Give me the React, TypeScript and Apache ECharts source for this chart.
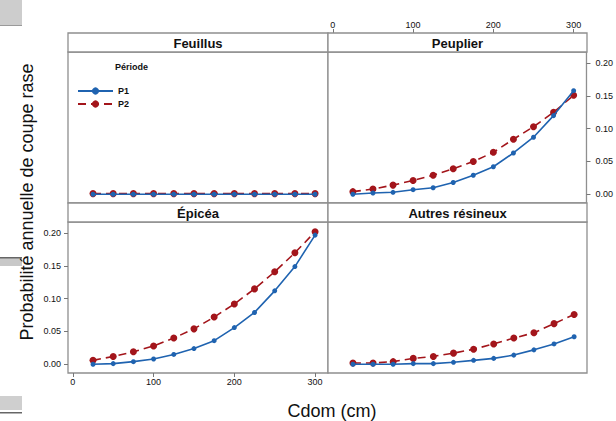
import React, { useEffect, useRef } from "react";
import * as echarts from "echarts";

const xValues = [25, 50, 75, 100, 125, 150, 175, 200, 225, 250, 275, 300];
const xTicks = [0, 100, 200, 300];
const yTicks = [0, 0.05, 0.1, 0.15, 0.2];
const legendNames = ["P1", "P2"];

const feuillusP1 = [0.0, 0.0, 0.0, 0.0, 0.0, 0.0, 0.0, 0.0, 0.0, 0.0, 0.0, 0.0];
const feuillusP2 = [0.001, 0.001, 0.001, 0.001, 0.001, 0.001, 0.001, 0.001, 0.001, 0.001, 0.001, 0.001];
const peuplierP1 = [0.0, 0.002, 0.003, 0.007, 0.01, 0.018, 0.029, 0.042, 0.063, 0.087, 0.12, 0.158];
const peuplierP2 = [0.004, 0.008, 0.014, 0.021, 0.029, 0.039, 0.05, 0.064, 0.084, 0.103, 0.125, 0.151];
const epiceaP1 = [0.0, 0.001, 0.004, 0.008, 0.015, 0.024, 0.036, 0.056, 0.079, 0.112, 0.149, 0.197];
const epiceaP2 = [0.006, 0.012, 0.019, 0.028, 0.04, 0.054, 0.072, 0.092, 0.115, 0.141, 0.17, 0.202];
const autresP1 = [0.0, 0.0, 0.0, 0.001, 0.001, 0.003, 0.006, 0.009, 0.014, 0.022, 0.031, 0.042];
const autresP2 = [0.002, 0.002, 0.004, 0.009, 0.012, 0.017, 0.023, 0.031, 0.04, 0.048, 0.062, 0.076];

const panelTitles = ["Feuillus", "Peuplier", "Épicéa", "Autres résineux"];
const panelSeries = [
  [feuillusP1, feuillusP2],
  [peuplierP1, peuplierP2],
  [epiceaP1, epiceaP2],
  [autresP1, autresP2],
];

const BLUE = "#1f63b0";
const RED = "#a3151b";
const FONT = "Liberation Sans, Arial, sans-serif";
const FRAME = "#8f8f8f";

export default function App() {
  const ref = useRef<HTMLDivElement>(null);
  useEffect(() => {
    document.body.style.margin = "0";
    const chart = echarts.init(ref.current!, null, { renderer: "svg" });
    const L = 68, R = 587, MID = 328;
    const TOP = 33, STRIP = 19;
    const P1T = TOP + STRIP;
    const H = 151;
    const S2T = P1T + H;
    const P2T = S2T + STRIP;
    const grids = [
      { left: L, top: P1T, width: MID - L, height: H },
      { left: MID, top: P1T, width: R - MID, height: H },
      { left: L, top: P2T, width: MID - L, height: H },
      { left: MID, top: P2T, width: R - MID, height: H },
    ].map((g) => ({ ...g, show: true, borderColor: FRAME, borderWidth: 1.3, backgroundColor: "#fff" }));

    const labelStyle = { fontSize: 9, color: "#111", fontFamily: FONT };
    const xAxes = grids.map((_, i) => {
      const shown = i === 1 || i === 2;
      return {
        gridIndex: i,
        type: "value",
        min: -6,
        max: 316,
        position: i === 1 ? "top" : "bottom",
        offset: i === 1 ? STRIP : 0,
        show: shown,
        axisLine: { show: false, onZero: false },
        splitLine: { show: false },
        axisTick: { show: shown, length: 4, customValues: xTicks, lineStyle: { color: "#777" } },
        axisLabel: { show: shown, margin: 4, customValues: xTicks, ...labelStyle },
      };
    });
    const yAxes = grids.map((_, i) => {
      const shown = i === 1 || i === 2;
      return {
        gridIndex: i,
        type: "value",
        min: -0.0133,
        max: 0.217,
        position: i === 1 ? "right" : "left",
        show: shown,
        axisLine: { show: false, onZero: false },
        splitLine: { show: false },
        axisTick: { show: shown, length: 4, customValues: yTicks, lineStyle: { color: "#777" } },
        axisLabel: {
          show: shown,
          margin: i === 1 ? 9 : 7,
          customValues: yTicks,
          formatter: (v: number) => v.toFixed(2),
          ...labelStyle,
        },
      };
    });

    const series: any[] = [];
    panelSeries.forEach((pair, i) => {
      series.push({
        type: "line",
        name: legendNames[0],
        xAxisIndex: i,
        yAxisIndex: i,
        data: xValues.map((x, k) => [x, pair[0][k]]),
        symbol: "circle",
        symbolSize: 5,
        itemStyle: { color: BLUE },
        lineStyle: { color: BLUE, width: 1.6 },
        z: 3,
      });
      series.push({
        type: "line",
        name: legendNames[1],
        xAxisIndex: i,
        yAxisIndex: i,
        data: xValues.map((x, k) => [x, pair[1][k]]),
        symbol: "circle",
        symbolSize: 7,
        itemStyle: { color: RED },
        lineStyle: { color: RED, width: 1.6, type: [8, 5] },
        z: 2,
      });
    });

    const strips: any[] = [];
    const stripPos = [
      [L, TOP, MID - L],
      [MID, TOP, R - MID],
      [L, S2T, MID - L],
      [MID, S2T, R - MID],
    ];
    stripPos.forEach(([x, y, w], i) => {
      strips.push({
        type: "rect",
        shape: { x, y, width: w, height: STRIP },
        style: { fill: "#fff", stroke: FRAME, lineWidth: 1.3 },
        z: 10,
      });
      strips.push({
        type: "text",
        x: x + w / 2,
        y: y + STRIP / 2 + 1,
        style: {
          text: panelTitles[i],
          textAlign: "center",
          textVerticalAlign: "middle",
          font: `bold 13px ${FONT}`,
          fill: "#111",
        },
        z: 11,
      });
    });

    const artifacts = [
      { type: "rect", shape: { x: 0, y: 0, width: 22, height: 25 }, style: { fill: "#cdcdcd" } },
      { type: "rect", shape: { x: 0, y: 25, width: 22, height: 1 }, style: { fill: "#9a9a9a" } },
      { type: "rect", shape: { x: 0, y: 258, width: 22, height: 8 }, style: { fill: "#c8c8c8" } },
      { type: "rect", shape: { x: 0, y: 257, width: 22, height: 1.5 }, style: { fill: "#666" } },
      { type: "rect", shape: { x: 0, y: 396, width: 22, height: 14 }, style: { fill: "#cfcfcf" } },
      { type: "rect", shape: { x: 0, y: 412, width: 22, height: 1.5 }, style: { fill: "#666" } },
    ];

    chart.setOption({
      animation: false,
      backgroundColor: "#fff",
      grid: grids,
      xAxis: xAxes,
      yAxis: yAxes,
      series,
      legend: {
        data: legendNames,
        orient: "vertical",
        left: 72,
        top: 81,
        itemWidth: 35,
        itemHeight: 9,
        itemGap: 3,
        itemTextGap: 9,
        textStyle: { fontSize: 9, fontWeight: "bold", color: "#111", fontFamily: FONT, lineHeight: 10 },
      },
      graphic: [
        ...artifacts,
        ...strips,
        {
          type: "text",
          x: 115,
          y: 67,
          style: { text: "Période", textVerticalAlign: "middle", font: `bold 9px ${FONT}`, fill: "#111" },
        },
        {
          type: "text",
          x: 27,
          y: 202,
          rotation: Math.PI / 2,
          z: 20,
          style: {
            text: "Probabilité annuelle de coupe rase",
            textAlign: "center",
            textVerticalAlign: "middle",
            font: `18px ${FONT}`,
            fill: "#111",
          },
        },
        {
          type: "text",
          x: 332,
          y: 411,
          style: {
            text: "Cdom (cm)",
            textAlign: "center",
            textVerticalAlign: "middle",
            font: `18px ${FONT}`,
            fill: "#111",
          },
        },
      ],
    });
    return () => chart.dispose();
  }, []);
  return <div ref={ref} style={{ width: 616, height: 421 }} />;
}
